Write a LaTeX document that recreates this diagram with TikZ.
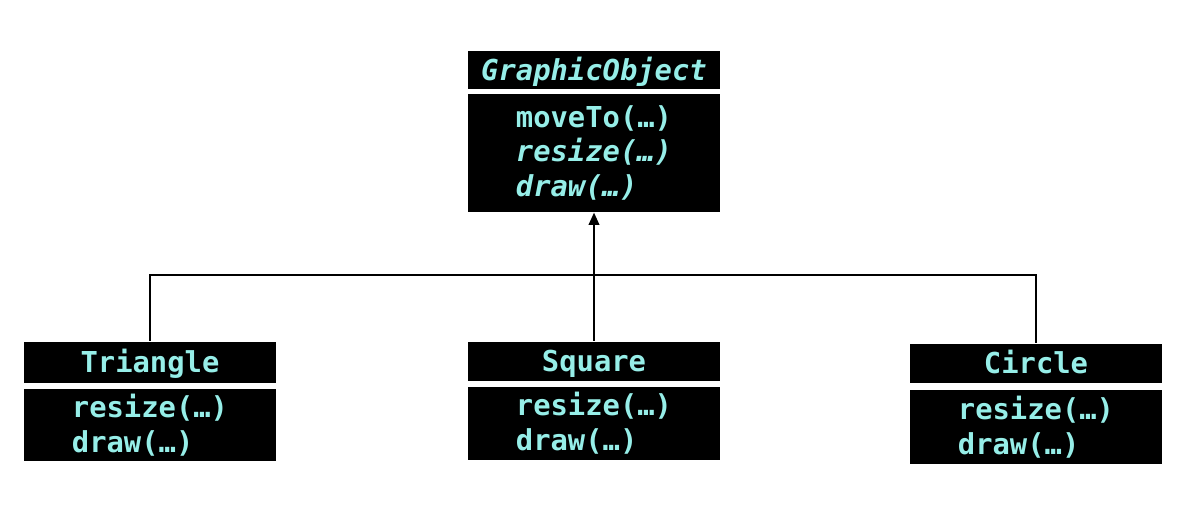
\documentclass[tikz,border=0pt]{standalone}
\usepackage{fontspec}
\setmonofont{DejaVu Sans Mono}
\usetikzlibrary{arrows.meta,positioning}
\definecolor{opstext}{RGB}{150,238,232}

\begin{document}
\begin{tikzpicture}[x=0.02cm, y=-0.02cm, thick]

		\tikzstyle{hdr}=[rectangle, fill=black, text=opstext, inner sep=0pt, minimum width=5.04cm, minimum height=0.78cm, text height=15pt, text depth=3.5pt, font=\ttfamily\bfseries\fontsize{16.4}{19.8}\selectfont]
		\tikzstyle{ops}=[rectangle, fill=black, text=opstext, inner sep=0pt, minimum width=5.04cm, align=left, font=\ttfamily\bfseries\fontsize{16.4}{19.8}\selectfont]
		\tikzstyle{link}=[line width=1.1pt, black]

		\useasboundingbox (0,0) rectangle (1186,510);

		% superclass
		\node[hdr] (go) at (594,70) {\textit{GraphicObject}};
		\node[ops, minimum height=2.36cm, below=0.06cm of go] (goops) {moveTo(…)\\\textit{resize(…)}\\\textit{draw(…)}};

		% subclasses
		\node[hdr, minimum height=0.82cm] (tri) at (150,362) {Triangle};
		\node[ops, minimum height=1.44cm, below=0.1cm of tri] (triops) {resize(…)\\draw(…)};

		\node[hdr] (sq) at (594,361) {Square};
		\node[ops, minimum height=1.46cm, below=0.1cm of sq] (sqops) {resize(…)\\draw(…)};

		\node[hdr] (cir) at (1036,363) {Circle};
		\node[ops, minimum height=1.48cm, below=0.12cm of cir] (cirops) {resize(…)\\draw(…)};

		% inheritance links
		\coordinate (bus) at (594,275);
		\draw[link] (tri.north) |- (bus) -| (cir.north);
		\draw[link, -{Triangle[width=6pt, length=7pt]}] (sq.north) -- (goops.south);
\end{tikzpicture}
\end{document}
